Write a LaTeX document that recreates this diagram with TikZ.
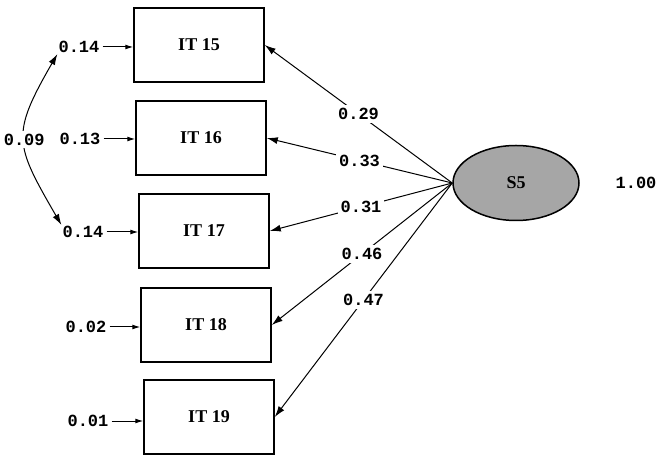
\documentclass[tikz,border=0pt]{standalone}
\usepackage{fontspec}
\setmainfont{Liberation Serif}
\setmonofont{Liberation Mono}
\usepackage{tikz}
\usetikzlibrary{arrows.meta,positioning,shapes.geometric}

\begin{document}
\begin{tikzpicture}[x=1pt,y=1pt,>={Latex[length=11pt,width=7pt]},
box/.style={draw,line width=1.5pt,minimum width=130pt,minimum height=74pt,
 font=\fontsize{18}{21}\selectfont\bfseries},
latent/.style={ellipse,draw,line width=1.5pt,fill=black!35,minimum width=126pt,
 minimum height=75pt,font=\fontsize{18}{21}\selectfont\bfseries},
num/.style={font=\fontsize{17}{20}\selectfont\ttfamily\bfseries,inner sep=1pt},
load/.style={num,fill=white,inner sep=3pt},
err/.style={->,line width=1pt,>={Latex[length=8pt,width=5pt]}}]
\useasboundingbox (0,0) rectangle (660,460);
% observed items
\node[box] (it15) at (199,415) {IT 15};
\node[box] (it16) at (201,322) {IT 16};
\node[box] (it17) at (204,229) {IT 17};
\node[box] (it18) at (206,135) {IT 18};
\node[box] (it19) at (209,43) {IT 19};
% factor
\node[latent] (s5) at (516,277) {S5};
\node[num] (var) at (636,277) {1.00};
% error variances
\node[num] (e15) at (79,413) {0.14};
\node[num] (e16) at (80,321) {0.13};
\node[num] (e17) at (83,228) {0.14};
\node[num] (e18) at (86,133) {0.02};
\node[num] (e19) at (88,39) {0.01};
\foreach \i in {15,...,19}
 \draw[err] ([xshift=2pt]e\i.east) -- (e\i.east -| it\i.west);
% loadings
\draw[->,line width=1pt] (s5.west) -- node[load]{0.29} (it15.east);
\draw[->,line width=1pt] (s5.west) -- node[load]{0.33} (it16.east);
\draw[->,line width=1pt] (s5.west) -- node[load]{0.31} (it17.east);
\draw[->,line width=1pt] (s5.west) -- node[load]{0.46} (it18.east);
\draw[->,line width=1pt] (s5.west) -- node[load]{0.47} (it19.east);
% error covariance
\draw[<->,line width=1pt] (e15.south west) to[out=240,in=120,looseness=1.4]
 node[load,pos=0.5] (cov) {0.09} (e17.north west);
\end{tikzpicture}
\end{document}
